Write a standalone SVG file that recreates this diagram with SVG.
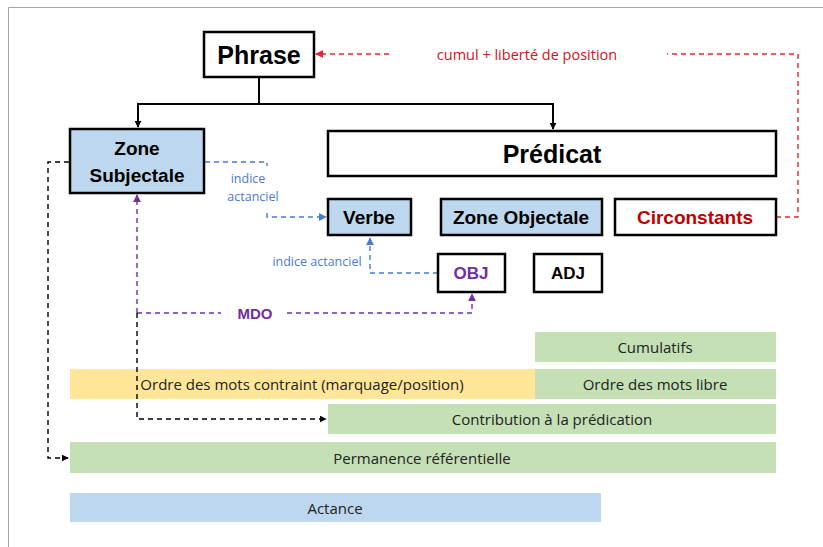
<svg xmlns="http://www.w3.org/2000/svg" width="823" height="547" viewBox="0 0 823 547">
<style>
.box{stroke:#000;stroke-width:2.5}
.blue{fill:#BDD7EE}
.white{fill:#fff}
.t{font-family:"Liberation Sans",Arial,sans-serif;text-anchor:middle;dominant-baseline:central}
.r{font-family:"Open Sans","Liberation Sans",sans-serif}
.b{font-weight:bold}
.bar{font-size:15px;fill:#222}
.dash{fill:none;stroke-width:1.4;stroke-dasharray:5,4}
</style>
<defs>
<marker id="ak" viewBox="0 0 10 10" refX="9" refY="5" markerWidth="7" markerHeight="7" markerUnits="userSpaceOnUse" orient="auto"><path d="M0,0L10,5L0,10z" fill="#000"/></marker>
<marker id="ar" viewBox="0 0 10 10" refX="9" refY="5" markerWidth="8" markerHeight="8" markerUnits="userSpaceOnUse" orient="auto"><path d="M0,0L10,5L0,10z" fill="#E0282E"/></marker>
<marker id="ab" viewBox="0 0 10 10" refX="9" refY="5" markerWidth="8" markerHeight="8" markerUnits="userSpaceOnUse" orient="auto"><path d="M0,0L10,5L0,10z" fill="#4A7BD0"/></marker>
<marker id="ap" viewBox="0 0 10 10" refX="9" refY="5" markerWidth="8" markerHeight="8" markerUnits="userSpaceOnUse" orient="auto"><path d="M0,0L10,5L0,10z" fill="#7030A0"/></marker>
</defs>
<rect width="823" height="547" fill="#fff"/>
<path d="M8.5,547V7.5H823" fill="none" stroke="#A6A6A6" stroke-width="1"/>

<g id="bars">
<rect x="535" y="332" width="241" height="30" fill="#C5E0B4"/>
<text class="t r bar" x="655" y="347">Cumulatifs</text>
<rect x="70" y="369" width="465" height="30" fill="#FFE699"/>
<text class="t r bar" x="302" y="384">Ordre des mots contraint (marquage/position)</text>
<rect x="535" y="369" width="241" height="30" fill="#C5E0B4"/>
<text class="t r bar" x="655" y="384">Ordre des mots libre</text>
<rect x="328" y="404" width="448" height="30" fill="#C5E0B4"/>
<text class="t r bar" x="552" y="419">Contribution à la prédication</text>
<rect x="70" y="442" width="706" height="31" fill="#C5E0B4"/>
<text class="t r bar" x="422" y="458">Permanence référentielle</text>
<rect x="70" y="493" width="531" height="29" fill="#BDD7EE"/>
<text class="t r bar" x="335" y="508">Actance</text>
</g>

<g id="connectors">
<path d="M259,77V104H138V127" fill="none" stroke="#000" stroke-width="2" marker-end="url(#ak)"/>
<path d="M259,104H553V129" fill="none" stroke="#000" stroke-width="2" marker-end="url(#ak)"/>
<path class="dash" d="M776,217H798V54H667" stroke="#E0282E"/>
<path class="dash" d="M389,54H316" stroke="#E0282E" marker-end="url(#ar)"/>
<text class="t r" x="527" y="54" font-size="14.5" fill="#D0141C">cumul + liberté de position</text>
<path class="dash" d="M205,162H267V166" stroke="#4A7BD0"/>
<text class="t r" x="248" y="178" font-size="12.5" fill="#4A7BD0">indice</text>
<text class="t r" x="253" y="196" font-size="12.5" fill="#4A7BD0">actanciel</text>
<path class="dash" d="M267,213V217H326" stroke="#4A7BD0" marker-end="url(#ab)"/>
<path class="dash" d="M438,273H370V238" stroke="#4A7BD0" marker-end="url(#ab)"/>
<text class="t r" x="317" y="261" font-size="12.5" fill="#4A7BD0">indice actanciel</text>
<path class="dash" d="M137,313V195" stroke="#7030A0" marker-end="url(#ap)"/>
<path class="dash" d="M137,313H221" stroke="#7030A0"/>
<text class="t b" x="255" y="313" font-size="15" fill="#7030A0">MDO</text>
<path class="dash" d="M287,313H472V294" stroke="#7030A0" marker-end="url(#ap)"/>
<path class="dash" d="M137,313V419H326" stroke="#000" marker-end="url(#ak)"/>
<path class="dash" d="M69,162H48V458H68" stroke="#000" marker-end="url(#ak)"/>
</g>

<g id="phrase">
<rect class="box white" x="204" y="32" width="110" height="45"/>
<text class="t b" x="259" y="55" font-size="25">Phrase</text>
</g>
<g id="zone-subjectale">
<rect class="box blue" x="70" y="129" width="134" height="64"/>
<text class="t b" x="137" y="148" font-size="19">Zone</text>
<text class="t b" x="137" y="175" font-size="19">Subjectale</text>
</g>
<g id="predicat">
<rect class="box white" x="328" y="131" width="448" height="45"/>
<text class="t b" x="552" y="154" font-size="25">Prédicat</text>
</g>
<g id="verbe">
<rect class="box blue" x="328" y="199" width="83" height="36"/>
<text class="t b" x="369" y="217" font-size="19">Verbe</text>
</g>
<g id="zone-objectale">
<rect class="box blue" x="441" y="199" width="161" height="36"/>
<text class="t b" x="521" y="217" font-size="19">Zone Objectale</text>
</g>
<g id="circonstants">
<rect class="box white" x="615" y="199" width="161" height="36"/>
<text class="t b" x="695" y="217" font-size="19" fill="#C00000">Circonstants</text>
</g>
<g id="obj">
<rect class="box white" x="438" y="254" width="67" height="38"/>
<text class="t b" x="471" y="273" font-size="17" fill="#7030A0">OBJ</text>
</g>
<g id="adj">
<rect class="box white" x="534" y="254" width="68" height="38"/>
<text class="t b" x="568" y="273" font-size="17">ADJ</text>
</g>
</svg>
